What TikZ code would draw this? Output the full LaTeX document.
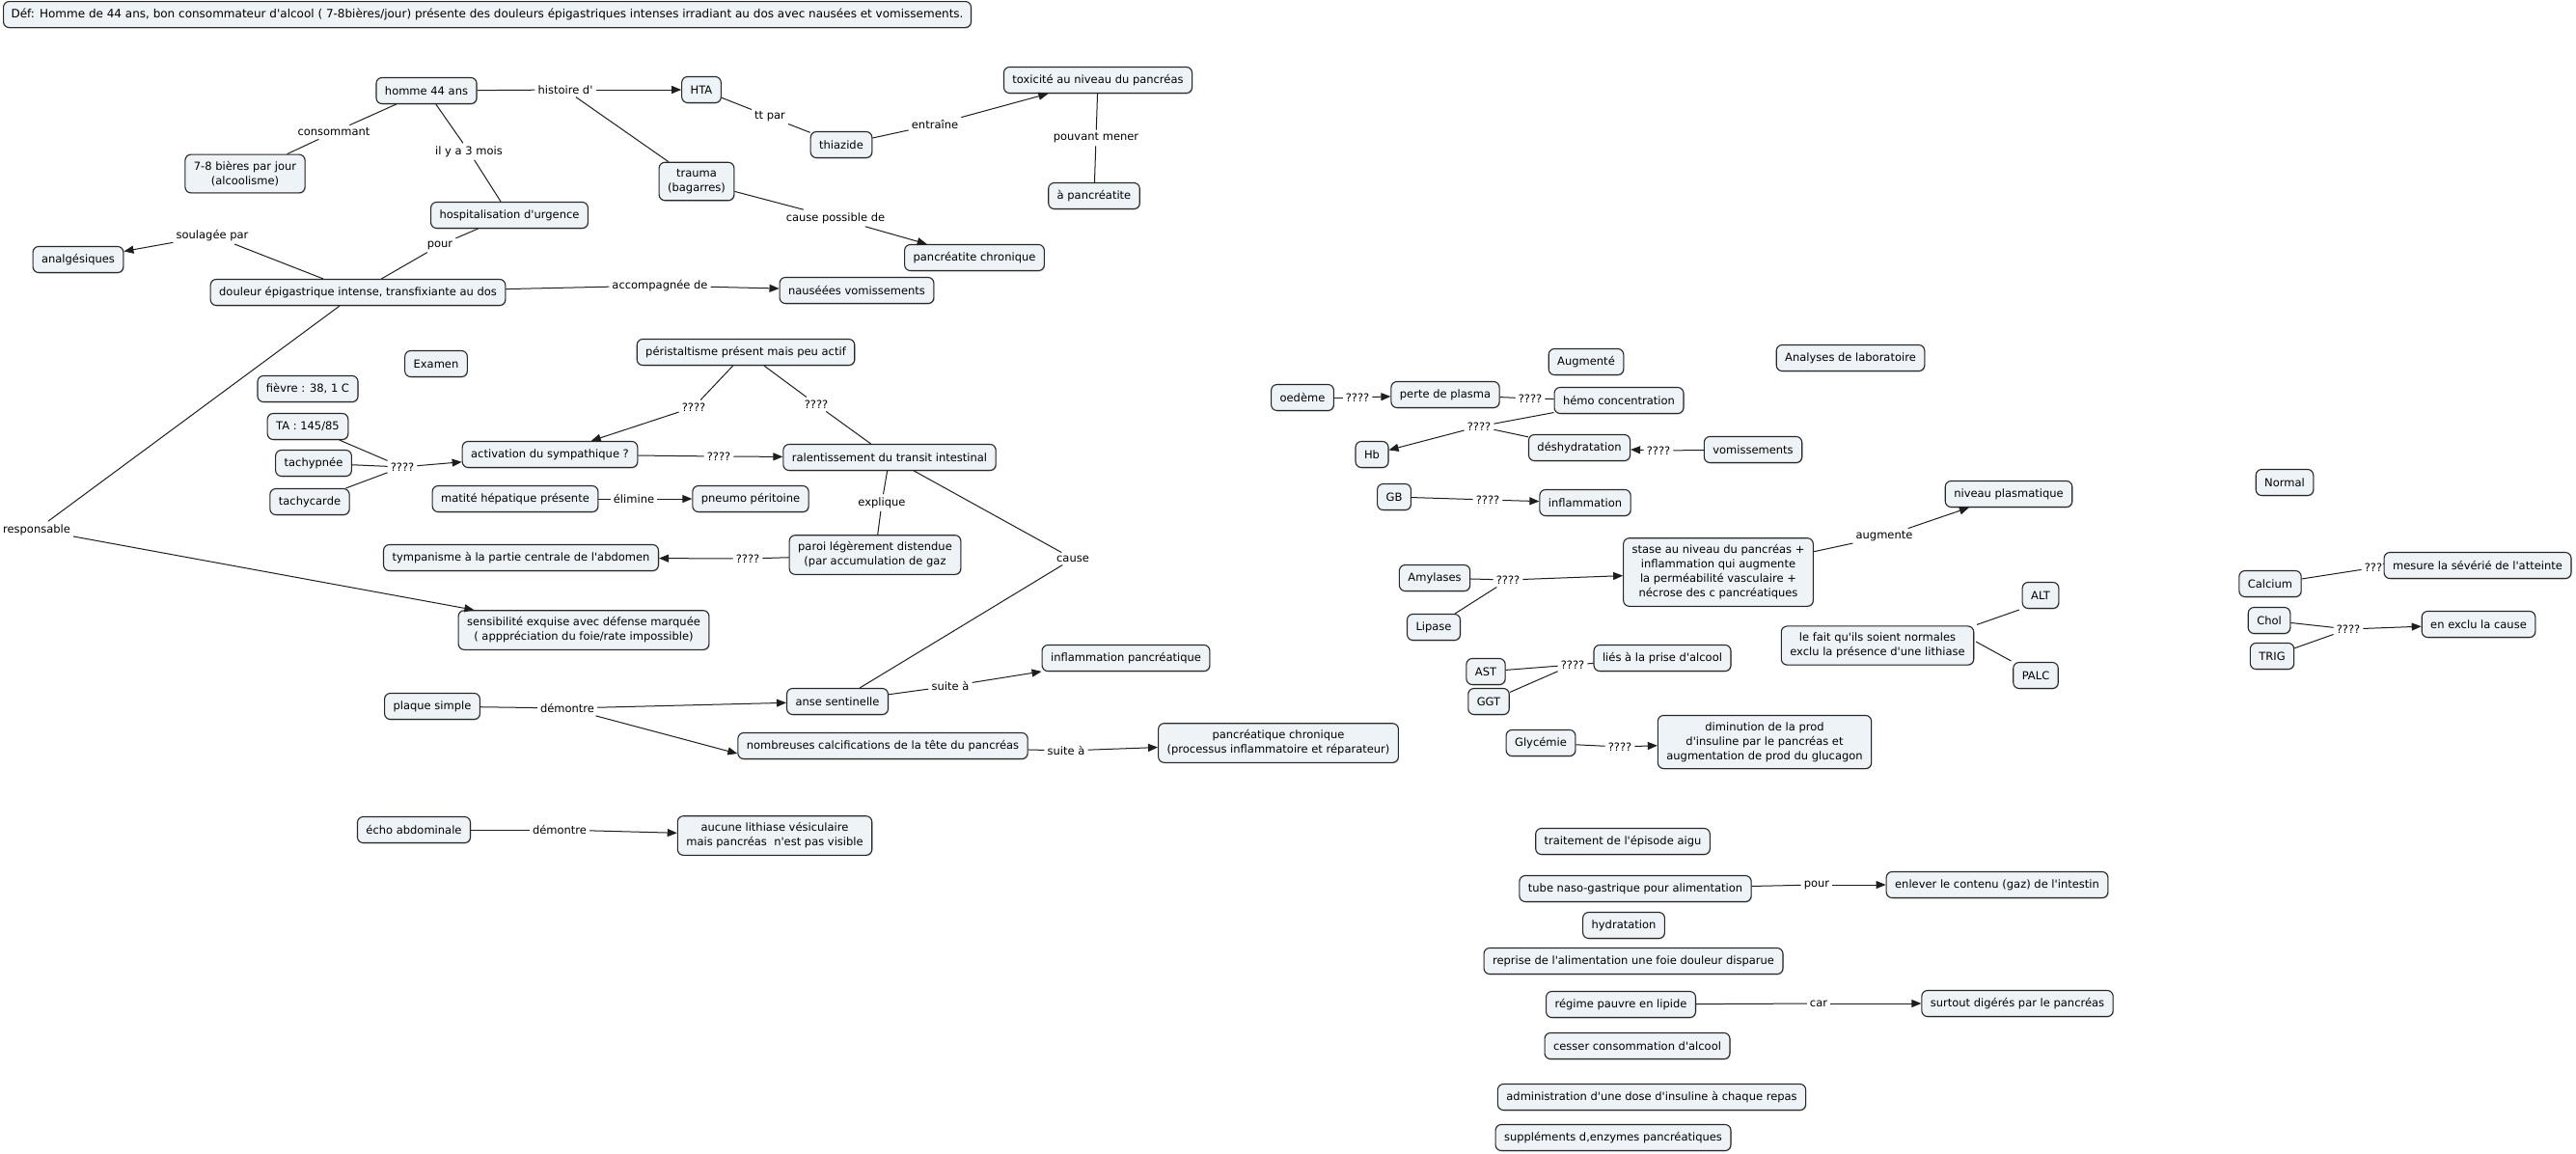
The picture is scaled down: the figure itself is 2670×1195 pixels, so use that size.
\documentclass[tikz,border=0pt]{standalone}
\usepackage{fontspec}
\setmainfont{DejaVu Sans}[Ligatures=TeXOff]
\usetikzlibrary{arrows.meta,shadows}
\definecolor{boxfill}{RGB}{237,243,246}
\definecolor{boxline}{RGB}{40,40,40}
\definecolor{lncol}{RGB}{30,30,30}
\newcommand\cmfont{\fontsize{11.5}{15}\selectfont}
\newcommand\deffont{\fontsize{12}{15}\selectfont}
\begin{document}
\begin{tikzpicture}[x=1pt,y=-1pt,
 box/.style={draw=boxline,line width=1.1pt,fill=boxfill,rounded corners=6pt,inner xsep=9pt,inner ysep=7pt,minimum height=27pt,font=\cmfont,align=center,drop shadow={shadow xshift=0.8pt,shadow yshift=-1pt,opacity=0.35}},
 lab/.style={font=\cmfont,inner sep=3pt},
 ln/.style={draw=lncol,line width=1pt},
 arr/.style={ln,-{Triangle[length=10pt,width=8pt]}},
]
\fill[white] (0,0) rectangle (2670,1195);
\useasboundingbox (0,0) rectangle (2670,1195);

% ---------- nodes, left part ----------
\node[box,anchor=north west,align=left,font=\deffont,inner xsep=8pt] (def) at (3,1) {Déf: Homme de 44 ans, bon consommateur d'alcool ( 7-8bières/jour) présente des douleurs épigastriques intenses irradiant au dos avec nausées et vomissements.};
\node[box] (homme) at (442,94) {homme 44 ans};
\node[box] (bieres) at (254,180) {7-8 bières par jour\\(alcoolisme)};
\node[box] (hosp) at (528,223) {hospitalisation d'urgence};
\node[box] (douleur) at (371,303) {douleur épigastrique intense, transfixiante au dos};
\node[box] (analg) at (81,269) {analgésiques};
\node[box] (hta) at (727,93) {HTA};
\node[box] (thia) at (872,150) {thiazide};
\node[box] (toxi) at (1138,83) {toxicité au niveau du pancréas};
\node[box] (apanc) at (1134,203) {à pancréatite};
\node[box] (trauma) at (722,188) {trauma\\(bagarres)};
\node[box] (pchron) at (1010,267) {pancréatite chronique};
\node[box] (nausee) at (888,301) {nauséées vomissements};
\node[box] (sensib) at (605,653) {sensibilité exquise avec défense marquée\\( apppréciation du foie/rate impossible)};
\node[box] (examen) at (452,377) {Examen};
\node[box] (fievre) at (319,403) {fièvre : 38, 1 C};
\node[box] (ta) at (319,442) {TA : 145/85};
\node[box] (tachyp) at (325,480) {tachypnée};
\node[box] (tachyc) at (321,520) {tachycarde};
\node[box] (activ) at (570,471) {activation du sympathique ?};
\node[box] (peri) at (773,365) {péristaltisme présent mais peu actif};
\node[box] (ralent) at (922,474) {ralentissement du transit intestinal};
\node[box] (matite) at (534,517) {matité hépatique présente};
\node[box] (pneumo) at (778,517) {pneumo péritoine};
\node[box] (paroi) at (907,575) {paroi légèrement distendue\\(par accumulation de gaz};
\node[box] (tympan) at (540,578) {tympanisme à la partie centrale de l'abdomen};
\node[box] (inflpanc) at (1167,682) {inflammation pancréatique};
\node[box] (plaque) at (448,732) {plaque simple};
\node[box] (anse) at (868,727) {anse sentinelle};
\node[box] (nomb) at (915,773) {nombreuses calcifications de la tête du pancréas};
\node[box] (pchron2) at (1325,770) {pancréatique chronique\\(processus inflammatoire et réparateur)};
\node[box] (echo) at (429,860) {écho abdominale};
\node[box] (aucune) at (803,866) {aucune lithiase vésiculaire\\mais pancréas\ \ n'est pas visible};

% ---------- nodes, right part ----------
\node[box] (oedeme) at (1350,412) {oedème};
\node[box] (perte) at (1498,409) {perte de plasma};
\node[box] (hemo) at (1678,415) {hémo concentration};
\node[box] (augm) at (1644,375) {Augmenté};
\node[box] (analyses) at (1918,371) {Analyses de laboratoire};
\node[box] (hb) at (1422,471) {Hb};
\node[box] (deshy) at (1637,464) {déshydratation};
\node[box] (vomi) at (1817,466) {vomissements};
\node[box] (gb) at (1445,515) {GB};
\node[box] (infl) at (1643,521) {inflammation};
\node[box] (stase) at (1781,593) {stase au niveau du pancréas +\\inflammation qui augmente\\la perméabilité vasculaire +\\nécrose des c pancréatiques};
\node[box] (niveau) at (2082,512) {niveau plasmatique};
\node[box] (amyl) at (1487,599) {Amylases};
\node[box] (lipase) at (1486,650) {Lipase};
\node[box] (ast) at (1540,696) {AST};
\node[box] (ggt) at (1543,727) {GGT};
\node[box] (lies) at (1723,682) {liés à la prise d'alcool};
\node[box] (glyc) at (1597,770) {Glycémie};
\node[box] (dimin) at (1829,769) {diminution de la prod\\d'insuline par le pancréas et\\augmentation de prod du glucagon};
\node[box] (lefait) at (1946,669) {le fait qu'ils soient normales\\exclu la présence d'une lithiase};
\node[box] (alt) at (2115,617) {ALT};
\node[box] (palc) at (2110,700) {PALC};
\node[box] (normal) at (2368,500) {Normal};
\node[box] (calcium) at (2353,605) {Calcium};
\node[box] (chol) at (2352,643) {Chol};
\node[box] (trig) at (2355,680) {TRIG};
\node[box] (exclu) at (2569,647) {en exclu la cause};
\node[lab] (lq14) at (2463,588) {????};
\node[box] (mesure) at (2568,586) {mesure la sévérié de l'atteinte};

\node[box] (trait) at (1682,872) {traitement de l'épisode aigu};
\node[box] (tube) at (1695,921) {tube naso-gastrique pour alimentation};
\node[box] (enlever) at (2070,917) {enlever le contenu (gaz) de l'intestin};
\node[box] (hydra) at (1683,959) {hydratation};
\node[box] (reprise) at (1693,996) {reprise de l'alimentation une foie douleur disparue};
\node[box] (regime) at (1680,1041) {régime pauvre en lipide};
\node[box] (surtout) at (2091,1040) {surtout digérés par le pancréas};
\node[box] (cesser) at (1697,1084) {cesser consommation d'alcool};
\node[box] (admin) at (1712,1137) {administration d'une dose d'insuline à chaque repas};
\node[box] (suppl) at (1672,1179) {suppléments d,enzymes pancréatiques};

% ---------- linking phrases ----------
\node[lab] (lhist) at (586,93) {histoire d'};
\node[lab] (lttpar) at (798,121) {tt par};
\node[lab] (lentr) at (969,129) {entraîne};
\node[lab] (lpouv) at (1136,143) {pouvant mener};
\node[lab] (lcposs) at (866,226) {cause possible de};
\node[lab] (lcons) at (346,137) {consommant};
\node[lab] (lilya) at (486,157) {il y a 3 mois};
\node[lab] (lpour) at (456,254) {pour};
\node[lab] (lsoul) at (220,244) {soulagée par};
\node[lab] (laccomp) at (684,296) {accompagnée de};
\node[lab] (lresp) at (38,549) {responsable};
\node[lab] (lq1) at (417,484) {????};
\node[lab] (lq2) at (719,422) {????};
\node[lab] (lq3) at (846,419) {????};
\node[lab] (lq4) at (745,473) {????};
\node[lab] (lelim) at (657,517) {élimine};
\node[lab] (lexpl) at (914,521) {explique};
\node[lab] (lq5) at (775,579) {????};
\node[lab] (lcause) at (1112,579) {cause};
\node[lab] (ldem1) at (588,734) {démontre};
\node[lab] (lsuite1) at (985,711) {suite à};
\node[lab] (lsuite2) at (1105,778) {suite à};
\node[lab] (ldem2) at (580,860) {démontre};
\node[lab] (lq6) at (1407,412) {????};
\node[lab] (lq7) at (1586,413) {????};
\node[lab] (lq8) at (1533,442) {????};
\node[lab] (lq9) at (1719,467) {????};
\node[lab] (lq10) at (1542,518) {????};
\node[lab] (lq11) at (1563,601) {????};
\node[lab] (laugm) at (1953,556) {augmente};
\node[lab] (lq12) at (1630,689) {????};
\node[lab] (lq13) at (1679,774) {????};
\node[lab] (lq15) at (2434,652) {????};
\node[lab] (lpour2) at (1883,917) {pour};
\node[lab] (lcar) at (1885,1040) {car};

% ---------- connectors ----------
\draw[ln] (homme) -- (lhist); \draw[arr] (lhist) -- (hta); \draw[ln] (lhist) -- (trauma);
\draw[ln] (hta) -- (lttpar); \draw[ln] (lttpar) -- (thia);
\draw[ln] (thia) -- (lentr); \draw[arr] (lentr) -- (toxi);
\draw[ln] (toxi) -- (lpouv); \draw[ln] (lpouv) -- (apanc);
\draw[ln] (trauma) -- (lcposs); \draw[arr] (lcposs) -- (pchron);
\draw[ln] (homme) -- (lcons); \draw[ln] (lcons) -- (bieres);
\draw[ln] (homme) -- (lilya); \draw[ln] (lilya) -- (hosp);
\draw[ln] (hosp) -- (lpour); \draw[ln] (lpour) -- (douleur);
\draw[ln] (douleur) -- (lsoul); \draw[arr] (lsoul) -- (analg);
\draw[ln] (douleur) -- (laccomp); \draw[arr] (laccomp) -- (nausee);
\draw[ln] (douleur) -- (lresp); \draw[arr] (lresp) -- (sensib);

\draw[ln] (ta) -- (lq1); \draw[ln] (tachyp) -- (lq1); \draw[ln] (tachyc) -- (lq1); \draw[arr] (lq1) -- (activ);
\draw[ln] (peri) -- (lq2); \draw[arr] (lq2) -- (activ);
\draw[ln] (peri) -- (lq3); \draw[ln] (lq3) -- (ralent);
\draw[ln] (activ) -- (lq4); \draw[arr] (lq4) -- (ralent);
\draw[ln] (matite) -- (lelim); \draw[arr] (lelim) -- (pneumo);
\draw[ln] (ralent) -- (lexpl); \draw[ln] (lexpl) -- (paroi);
\draw[ln] (paroi) -- (lq5); \draw[arr] (lq5) -- (tympan);
\draw[ln] (ralent) -- (lcause); \draw[ln] (lcause) -- (anse);
\draw[ln] (plaque) -- (ldem1); \draw[arr] (ldem1) -- (anse); \draw[arr] (ldem1) -- ([yshift=-8pt]nomb.west);
\draw[ln] (anse) -- (lsuite1); \draw[arr] (lsuite1) -- (inflpanc);
\draw[ln] (nomb) -- (lsuite2); \draw[arr] (lsuite2) -- (pchron2);
\draw[ln] (echo) -- (ldem2); \draw[arr] (ldem2) -- (aucune);

\draw[ln] (oedeme) -- (lq6); \draw[arr] (lq6) -- (perte);
\draw[ln] (perte) -- (lq7); \draw[ln] (lq7) -- (hemo);
\draw[ln] (hemo) -- (lq8); \draw[ln] (deshy) -- (lq8); \draw[arr] (lq8) -- (hb);
\draw[ln] (vomi) -- (lq9); \draw[arr] (lq9) -- (deshy);
\draw[ln] (gb) -- (lq10); \draw[arr] (lq10) -- (infl);
\draw[ln] (amyl) -- (lq11); \draw[ln] (lipase) -- (lq11); \draw[arr] (lq11) -- (stase);
\draw[ln] (stase) -- (laugm); \draw[arr] (laugm) -- (niveau);
\draw[ln] (ast) -- (lq12); \draw[ln] (ggt) -- (lq12); \draw[ln] (lq12) -- (lies);
\draw[ln] (glyc) -- (lq13); \draw[arr] (lq13) -- (dimin);
\draw[ln,shorten <=3pt,shorten >=3pt] (lefait.north east) -- (alt.south west);
\draw[ln,shorten <=2pt,shorten >=2pt] ([yshift=5pt]lefait.east) -- (palc.north west);
\draw[ln] (calcium) -- (lq14);
\draw[ln] (chol) -- (lq15); \draw[ln] (trig) -- (lq15); \draw[arr] (lq15) -- (exclu);
\draw[ln] (tube) -- (lpour2); \draw[arr] (lpour2) -- (enlever);
\draw[ln] (regime) -- (lcar); \draw[arr] (lcar) -- (surtout);
\end{tikzpicture}
\end{document}
